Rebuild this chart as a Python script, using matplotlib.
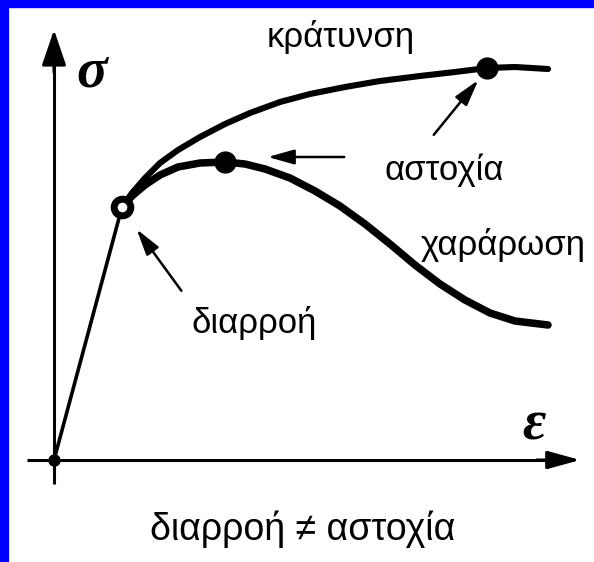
import matplotlib
matplotlib.use("Agg")
import matplotlib.pyplot as plt
from matplotlib.patches import Rectangle

# strain / stress in arbitrary units (origin at 0,0)
elastic_eps = [0.0, 6.8]
elastic_sig = [0.0, 25.3]

harden_eps = [6.8, 7.8, 9.1, 10.6, 12.4, 14.6, 17.1, 19.6, 22.6, 25.6, 29.1, 32.6, 36.6, 40.1, 43.3, 46.1, 49.4]
harden_sig = [25.3, 26.7, 28.2, 29.7, 31.0, 32.3, 33.6, 34.7, 35.8, 36.6, 37.3, 37.9, 38.4, 38.8, 39.2, 39.3, 39.1]

soften_eps = [6.8, 7.8, 9.1, 10.6, 12.4, 14.6, 17.1, 19.1, 21.1, 23.6, 26.1, 28.6, 31.1, 33.6, 36.1,
              38.6, 41.1, 43.6, 46.1, 49.4]
soften_sig = [25.3, 26.4, 27.5, 28.5, 29.3, 29.7, 29.8, 29.6, 29.1, 28.2, 26.9, 25.4, 23.6, 21.6, 19.5,
              17.6, 16.0, 14.7, 13.9, 13.5]

yield_pt = (6.8, 25.3)
peak_pt = (17.1, 29.8)
ult_pt = (43.3, 39.2)

fig = plt.figure(figsize=(5.94, 5.62), dpi=100)
ax = fig.add_axes([0, 0, 1, 1])
ax.set_xlim(-5.4, 54.0)
ax.set_ylim(-10.2, 46.0)
ax.axis("off")

# blue frame on left and top
fig.add_artist(Rectangle((0, 0), 8 / 594, 1, transform=fig.transFigure, color="#0000ff", zorder=10))
fig.add_artist(Rectangle((0, 1 - 7 / 562), 1, 7 / 562, transform=fig.transFigure, color="#0000ff", zorder=10))

# axes with arrows
ax.plot([0, 0], [-2.4, 40], color="black", lw=2.2, solid_capstyle="butt")
ax.plot([-2.7, 49.5], [0, 0], color="black", lw=2.2, solid_capstyle="butt")
ax.annotate("", xy=(0, 43.3), xytext=(0, 38.5),
            arrowprops=dict(arrowstyle="-|>,head_length=2.2,head_width=0.75", color="black", lw=2.2))
ax.annotate("", xy=(52.9, 0), xytext=(48.0, 0),
            arrowprops=dict(arrowstyle="-|>,head_length=2.0,head_width=0.55", color="black", lw=2.2))

ax.text(3.8, 38.8, "σ", fontsize=41, family="Liberation Serif", weight="bold", style="italic",
        ha="center", va="center")
ax.text(48.0, 3.5, "ε", fontsize=41, family="Liberation Serif", weight="bold", style="italic",
        ha="center", va="center")

# curves
ax.plot(elastic_eps, elastic_sig, color="black", lw=2.6, solid_capstyle="round")
ax.plot(harden_eps, harden_sig, color="black", lw=4.4, solid_capstyle="round", solid_joinstyle="round")
ax.plot(soften_eps, soften_sig, color="black", lw=5.4, solid_capstyle="round", solid_joinstyle="round")

# points
ax.plot(0, 0, "o", color="black", ms=8)
ax.plot(*yield_pt, "o", color="white", mec="black", mew=5, ms=12)
ax.plot(*peak_pt, "o", color="black", ms=15)
ax.plot(*ult_pt, "o", color="black", ms=15)

arrow = dict(arrowstyle="-|>,head_length=1.6,head_width=0.45", color="black", lw=1.8)
ax.annotate("", xy=(8.1, 23.3), xytext=(12.9, 16.7), arrowprops=arrow)
ax.annotate("", xy=(21.1, 30.3), xytext=(29.3, 30.3), arrowprops=arrow)
ax.annotate("", xy=(42.6, 38.2), xytext=(37.8, 32.3), arrowprops=arrow)

# labels
font = ["Liberation Sans", "DejaVu Sans"]
ax.text(28.7, 42.3, "κράτυνση", fontsize=25, family=font, ha="center", va="center")
ax.text(39.0, 29.0, "αστοχία", fontsize=25, family=font, ha="center", va="center")
ax.text(44.9, 21.5, "χαράρωση", fontsize=25, family=font, ha="center", va="center")
ax.text(20.0, 13.7, "διαρροή", fontsize=25, family=font, ha="center", va="center")
ax.text(24.9, -6.9, "διαρροή ≠ αστοχία", fontsize=27, family=font, ha="center", va="center")

fig.savefig("out.png", dpi=100)
